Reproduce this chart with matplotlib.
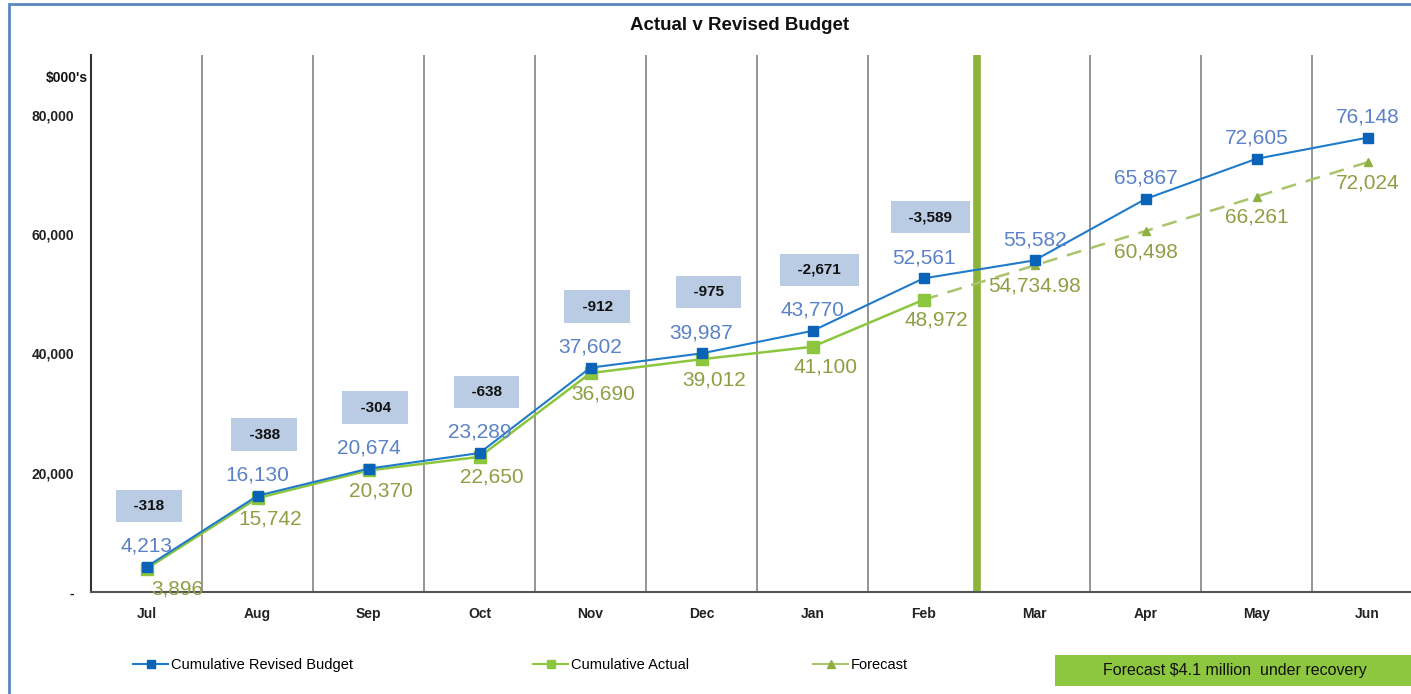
import matplotlib
matplotlib.use("Agg")
import matplotlib.pyplot as plt
from matplotlib.patches import Rectangle
from matplotlib.lines import Line2D
import numpy as np

plt.rcParams['font.family'] = ['Liberation Sans', 'DejaVu Sans']

months = ["Jul", "Aug", "Sep", "Oct", "Nov", "Dec", "Jan", "Feb", "Mar", "Apr", "May", "Jun"]
budget = [4213, 16130, 20674, 23289, 37602, 39987, 43770, 52561, 55582, 65867, 72605, 76148]
actual = [3896, 15742, 20370, 22650, 36690, 39012, 41100, 48972]
forecast_months = ["Feb", "Mar", "Apr", "May", "Jun"]
forecast = [48972, 54734.98, 60498, 66261, 72024]
variance = [-318, -388, -304, -638, -912, -975, -2671, -3589]
yticks = [0, 20000, 40000, 60000, 80000]
ytick_labels = ["-", "20,000", "40,000", "60,000", "80,000"]

W, H = 1411, 694
fig = plt.figure(figsize=(W / 100, H / 100), dpi=100)
ax = fig.add_axes([91 / W, 102 / H, 1332 / W, 537 / H])

x = np.arange(len(months))
xa = np.arange(len(actual))
xf = np.array([months.index(m) for m in forecast_months])

c_budget = "#1F7BC9"
c_budget_m = "#0B63B8"
c_budget_txt = "#5B82C6"
c_actual = "#8CC63F"
c_actual_txt = "#8CA043"
c_fc = "#A9C46A"

# vertical category separators
for b in np.arange(0.5, len(months) - 0.5, 1.0):
    if b == 7.5:
        ax.axvline(b - 0.02, color="#8DB43A", lw=5.5, zorder=2)
    else:
        ax.axvline(b, color="#8C8C8C", lw=1.3, zorder=1)

ax.plot(xf, forecast, color=c_fc, lw=1.8, ls=(0, (6, 4)), marker="^", ms=6,
        markerfacecolor="#8DB040", markeredgecolor="#8DB040", zorder=3, markevery=list(range(1, len(xf))))
ax.plot(xa, actual, color=c_actual, lw=1.8, marker="s", ms=8,
        markerfacecolor=c_actual, markeredgecolor=c_actual, zorder=4)
ax.plot(x, budget, color=c_budget, lw=1.5, marker="s", ms=7.5,
        markerfacecolor=c_budget_m, markeredgecolor=c_budget_m, zorder=5)

ax.set_xlim(-0.5, len(months) - 0.5)
ax.set_ylim(0, 90000)
ax.set_xticks(x)
ax.set_xticklabels(months, fontsize=10, fontweight="bold", color="#222222")
ax.set_yticks(yticks)
ax.set_yticklabels(ytick_labels, fontsize=10, fontweight="bold", color="#222222")
ax.tick_params(axis="x", length=0, pad=11)
ax.tick_params(axis="y", length=0, pad=12)
for s in ["top", "right"]:
    ax.spines[s].set_visible(False)
ax.spines["left"].set_color("#333333")
ax.spines["left"].set_linewidth(1.5)
ax.spines["bottom"].set_color("#555555")
ax.spines["bottom"].set_linewidth(1.5)

# budget labels
for i, v in enumerate(budget):
    ax.annotate(f"{v:,}", (i, v), xytext=(0, 8), textcoords="offset points",
                ha="center", va="bottom", fontsize=15, color=c_budget_txt, zorder=6)
# actual labels
for i, v in enumerate(actual):
    dx = 22 if i == 0 else 9
    ax.annotate(f"{v:,}", (i, v), xytext=(dx, -8), textcoords="offset points",
                ha="center", va="top", fontsize=15, color=c_actual_txt, zorder=6)
# forecast labels
for i, v in zip(xf[1:], forecast[1:]):
    s = f"{v:,.2f}" if v != int(v) else f"{int(v):,}"
    ax.annotate(s, (i, v), xytext=(0, -8), textcoords="offset points",
                ha="center", va="top", fontsize=15, color=c_actual_txt, zorder=6)
# variance boxes
for i, v in enumerate(variance):
    dx = 2 if i == 0 else 5
    ax.annotate(f"  {v:,}  ", (i, budget[i]), xytext=(dx, 44), textcoords="offset points",
                ha="center", va="center", fontsize=11, fontweight="bold", color="#111111",
                bbox=dict(boxstyle="square,pad=0.6", fc="#B9CCE4", ec="none"), zorder=7)

fig.text(740 / W, 1 - 25 / H, "Actual v Revised Budget", ha="center", va="center",
         fontsize=13.5, fontweight="bold", color="#111111")
fig.text(88 / W, 1 - 78 / H, "$000's", ha="right", va="center",
         fontsize=10, fontweight="bold", color="#111111")

# legends
h1 = Line2D([], [], color=c_budget, lw=1.5, marker="s", ms=6,
            markerfacecolor=c_budget_m, markeredgecolor=c_budget_m)
h2 = Line2D([], [], color=c_actual, lw=1.5, marker="s", ms=6,
            markerfacecolor=c_actual, markeredgecolor=c_actual)
h3 = Line2D([], [], color=c_fc, lw=1.5, marker="^", ms=6,
            markerfacecolor="#8DB040", markeredgecolor="#8DB040")
for h, lab, xp in [(h1, "Cumulative Revised Budget", 133), (h2, "Cumulative Actual", 533),
                   (h3, "Forecast", 813)]:
    fig.legend(handles=[h], labels=[lab], loc="center left", bbox_to_anchor=(xp / W, 1 - 665 / H),
               frameon=False, fontsize=10.5, handlelength=2.4, handletextpad=0.2,
               borderaxespad=0, borderpad=0)

fig.add_artist(Rectangle((1055 / W, 1 - 686 / H), 400 / W, 31 / H, transform=fig.transFigure,
                         fc="#8DC63F", ec="none"))
fig.text(1103 / W, 1 - 670 / H, "Forecast \\$4.1 million  under recovery", ha="left", va="center",
         fontsize=11.5, color="#111111")

# outer frame
fig.add_artist(Rectangle((9 / W, -0.02), 1.1, 1 - 4 / H + 0.02, transform=fig.transFigure,
                         fc="none", ec="#5A86C0", lw=2))

fig.savefig("out.png", dpi=100)
